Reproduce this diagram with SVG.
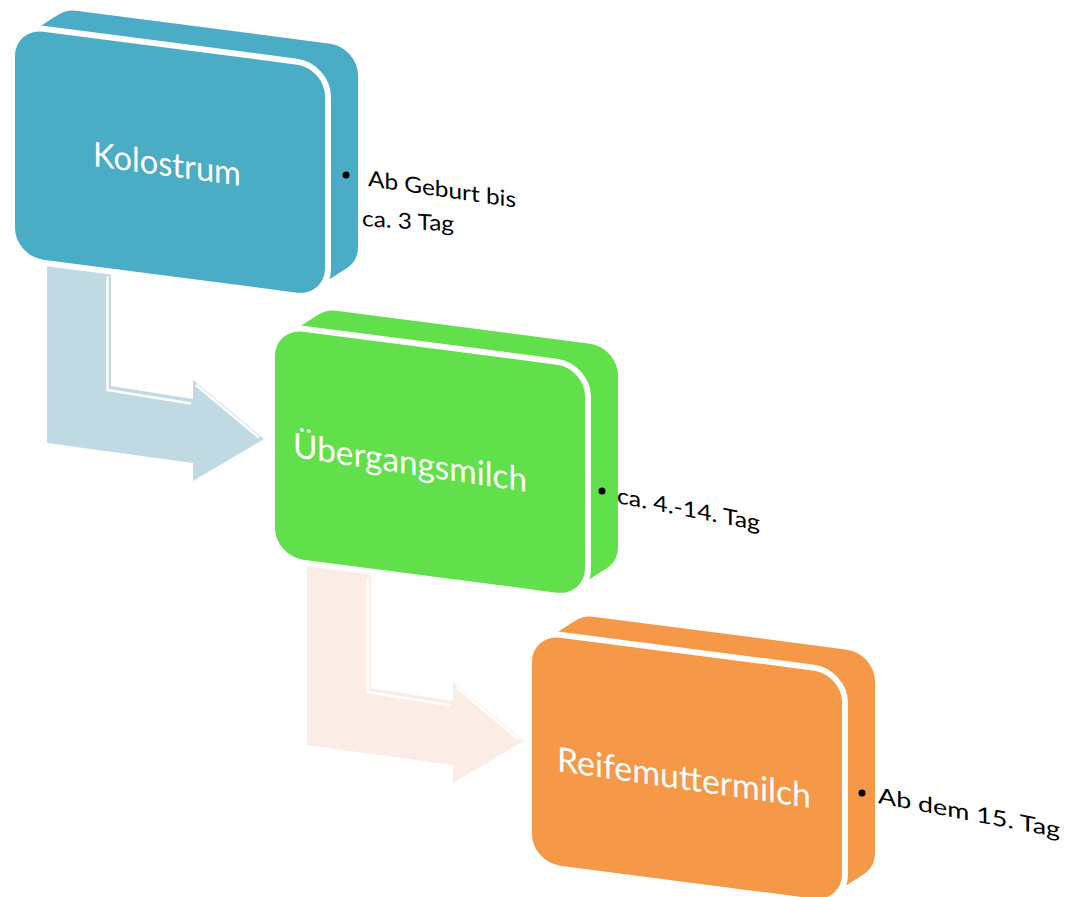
<svg xmlns="http://www.w3.org/2000/svg" xmlns:xlink="http://www.w3.org/1999/xlink" width="1066" height="897" viewBox="0 0 1066 897">
<defs>
<style>
.boxtxt{font-family:Lato,"Open Sans","Liberation Sans",sans-serif;font-size:34px;fill:#ffffff}
.lbl{font-family:Lato,"Open Sans","Liberation Sans",sans-serif;font-size:22px;fill:#000000}
.front{stroke:#ffffff;stroke-width:12;paint-order:stroke fill;stroke-linejoin:round}
.hl{fill:none;stroke:#ffffff;stroke-width:2.5}
.c1{fill:#4BACC6}
.c2{fill:#61E04B}
.c3{fill:#F59847}
.a1{fill:#C0DAE3}
.a2{fill:#FBECE6}
</style>
<rect id="face" transform="translate(15,28) skewY(7.4)" width="310" height="228" rx="28" ry="28"/>
<g id="depth">
<use href="#face" x="3.3" y="-2.1"/>
<use href="#face" x="6.6" y="-4.2"/>
<use href="#face" x="9.9" y="-6.3"/>
<use href="#face" x="13.2" y="-8.4"/>
<use href="#face" x="16.5" y="-10.5"/>
<use href="#face" x="19.8" y="-12.6"/>
<use href="#face" x="23.1" y="-14.7"/>
<use href="#face" x="26.4" y="-16.8"/>
<use href="#face" x="29.7" y="-18.9"/>
<use href="#face" x="33" y="-21"/>
</g>
<g id="arrow">
<polygon points="47,262 111,270 111,386 193,399 193,380 264,439 193,481 193,463 47,443"/>
<polyline class="hl" points="107.5,276 107.5,390 191,403.5"/>
<polyline class="hl" points="196,385 259,437.5"/>
</g>
</defs>
<g id="connectors">
<use href="#arrow" class="a1"/>
<use href="#arrow" class="a2" x="260" y="302"/>
</g>
<g id="node1">
<g class="c1">
<use href="#depth"/>
<use href="#face" class="front"/>
</g>
<text class="boxtxt" transform="translate(93,166) skewY(7.6)" textLength="148" lengthAdjust="spacingAndGlyphs">Kolostrum</text>
</g>
<g id="node2">
<g class="c2" transform="translate(260,300)">
<use href="#depth"/>
<use href="#face" class="front"/>
</g>
<text class="boxtxt" transform="translate(293,457) skewY(8.5)" textLength="234" lengthAdjust="spacingAndGlyphs">Übergangsmilch</text>
</g>
<g id="node3">
<g class="c3" transform="translate(517,606)">
<use href="#depth"/>
<use href="#face" class="front"/>
</g>
<text class="boxtxt" transform="translate(557,771) skewY(8.3)" textLength="254" lengthAdjust="spacingAndGlyphs">Reifemuttermilch</text>
</g>
<g id="label1">
<circle cx="346" cy="175" r="3.5"/>
<text class="lbl" transform="translate(368,186) skewY(8.3)" textLength="148" lengthAdjust="spacingAndGlyphs">Ab Geburt bis</text>
<text class="lbl" transform="translate(362,226) skewY(3.5)" textLength="92" lengthAdjust="spacingAndGlyphs">ca. 3 Tag</text>
</g>
<g id="label2">
<circle cx="602" cy="491" r="3.5"/>
<text class="lbl" transform="translate(617,503) skewY(11)" textLength="143" lengthAdjust="spacingAndGlyphs">ca. 4.-14. Tag</text>
</g>
<g id="label3">
<circle cx="862" cy="793" r="3.5"/>
<text class="lbl" transform="translate(878,803) skewY(10.8)" textLength="182" lengthAdjust="spacingAndGlyphs">Ab dem 15. Tag</text>
</g>
</svg>
